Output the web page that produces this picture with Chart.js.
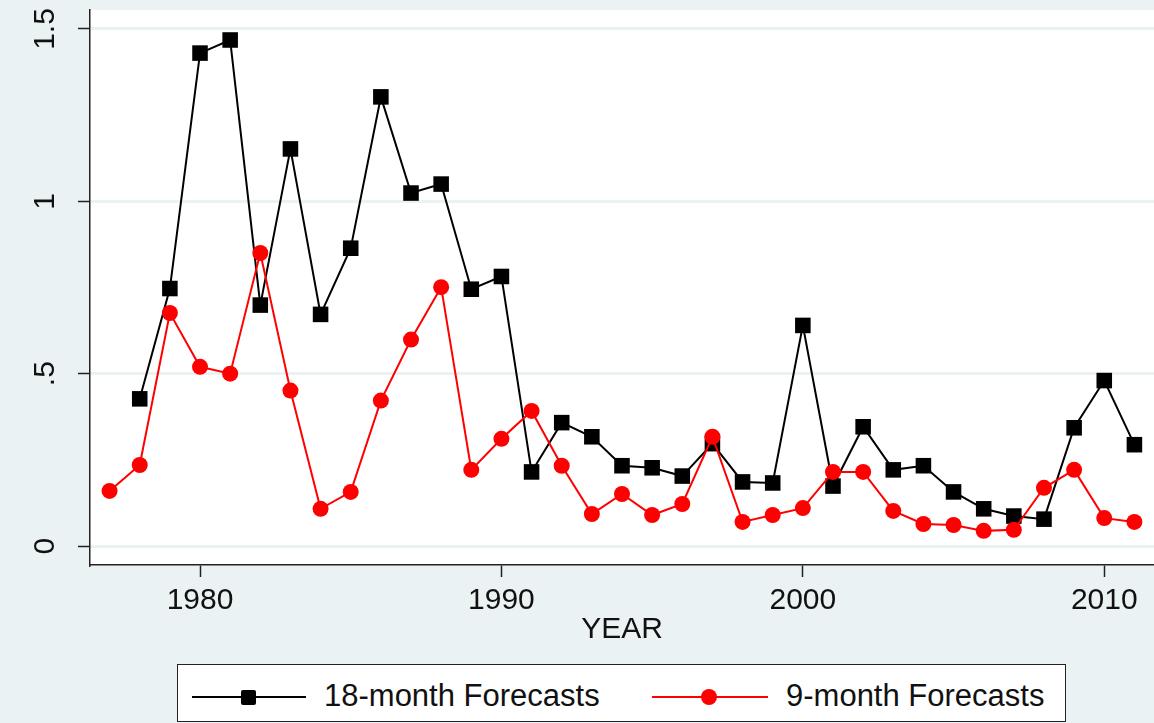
<!DOCTYPE html>
<html>
<head>
<meta charset="utf-8">
<script src="https://cdn.jsdelivr.net/npm/chart.js@4.4.1/dist/chart.umd.min.js"></script>
<style>
html,body{margin:0;padding:0;background:#EAF2F3;}
#wrap{position:relative;width:1154px;height:723px;overflow:hidden;background:#EAF2F3;}
#c{position:absolute;left:0;top:0;}
#legend{position:absolute;left:177px;top:664px;width:887px;height:56px;border:1.5px solid #222;background:#fff;font-family:"Liberation Sans",Arial,sans-serif;font-size:31px;color:#111;}
.ln{position:absolute;height:2px;}
.lbl{position:absolute;line-height:31px;white-space:nowrap;}
.sq{position:absolute;width:15px;height:15px;background:#000;border-radius:2px;}
.ci{position:absolute;width:16px;height:16px;background:#f00;border-radius:50%;}
</style>
</head>
<body>
<div id="wrap">
<canvas id="c" width="1154" height="723"></canvas>
<div id="legend">
  <div class="ln" style="left:14px;width:114px;top:31px;background:#000;"></div>
  <div class="sq" style="left:63px;top:24.5px;"></div>
  <div class="lbl" id="lab1" style="left:146px;top:15px;"></div>
  <div class="ln" style="left:474px;width:116px;top:31px;background:#f00;"></div>
  <div class="ci" style="left:523px;top:24px;"></div>
  <div class="lbl" id="lab2" style="left:608px;top:15px;"></div>
</div>
</div>
<script>
// ---- data ----
const seriesNames = ['18-month Forecasts', '9-month Forecasts'];
const years18 = [1978,1979,1980,1981,1982,1983,1984,1985,1986,1987,1988,1989,1990,1991,1992,1993,1994,1995,1996,1997,1998,1999,2000,2001,2002,2003,2004,2005,2006,2007,2008,2009,2010,2011];
const values18 = [0.427,0.747,1.430,1.468,0.699,1.152,0.672,0.864,1.303,1.024,1.050,0.745,0.782,0.215,0.358,0.317,0.233,0.227,0.203,0.297,0.186,0.183,0.640,0.174,0.346,0.221,0.233,0.157,0.108,0.087,0.078,0.343,0.480,0.294];
const years9 = [1977,1978,1979,1980,1981,1982,1983,1984,1985,1986,1987,1988,1989,1990,1991,1992,1993,1994,1995,1996,1997,1998,1999,2000,2001,2002,2003,2004,2005,2006,2007,2008,2009,2010,2011];
const values9 = [0.160,0.235,0.676,0.520,0.500,0.850,0.451,0.108,0.157,0.422,0.599,0.751,0.221,0.311,0.392,0.233,0.093,0.151,0.090,0.122,0.317,0.070,0.090,0.110,0.215,0.215,0.102,0.064,0.061,0.044,0.047,0.169,0.221,0.081,0.070];
const xTicks = [1980,1990,2000,2010];
const yTicks = [0,0.5,1,1.5];
const yTickLabels = ['0','.5','1','1.5'];
const xTitle = 'YEAR';

document.getElementById('lab1').textContent = seriesNames[0];
document.getElementById('lab2').textContent = seriesNames[1];

const FONT = 'Liberation Sans';

const plotBg = {
  id:'plotBg',
  beforeDraw(chart){
    const {ctx, chartArea:a} = chart;
    ctx.save();
    ctx.fillStyle = '#fff';
    ctx.fillRect(a.left, a.top, a.right - a.left, a.bottom - a.top);
    ctx.restore();
  }
};
const yLabels = {
  id:'yLabels',
  afterDraw(chart){
    const {ctx} = chart;
    const s = chart.scales.y;
    ctx.save();
    ctx.fillStyle = '#111';
    ctx.font = '30px "' + FONT + '"';
    ctx.textAlign = 'center';
    ctx.textBaseline = 'middle';
    yTicks.forEach((v,i)=>{
      const p = s.getPixelForValue(v);
      ctx.save();
      ctx.translate(44, p);
      ctx.rotate(-Math.PI/2);
      ctx.fillText(yTickLabels[i], 0, 2);
      ctx.restore();
    });
    ctx.restore();
  }
};

new Chart(document.getElementById('c'), {
  type:'line',
  data:{
    datasets:[
      {
        label: seriesNames[0],
        data: years18.map((x,i)=>({x, y: values18[i]})),
        borderColor:'#000', backgroundColor:'#000', borderWidth:2,
        pointStyle:'rect', pointRadius:11, pointHoverRadius:11, pointBorderWidth:0,
        tension:0, order:2
      },
      {
        label: seriesNames[1],
        data: years9.map((x,i)=>({x, y: values9[i]})),
        borderColor:'#f00', backgroundColor:'#f00', borderWidth:2,
        pointStyle:'circle', pointRadius:8, pointHoverRadius:8, pointBorderWidth:0,
        tension:0, order:1
      }
    ]
  },
  options:{
    responsive:false,
    animation:false,
    events:[],
    layout:{autoPadding:false, padding:{top:10,left:0,right:0,bottom:73}},
    plugins:{legend:{display:false}, tooltip:{enabled:false}},
    scales:{
      x:{
        type:'linear', min:1976.35, max:2011.65,
        afterBuildTicks:(s)=>{ s.ticks = xTicks.map(v=>({value:v})); },
        afterFit:(s)=>{ s.height = 85; s.paddingLeft = 0; s.paddingRight = 0; },
        grid:{drawOnChartArea:false, tickLength:12, tickColor:'#222', tickWidth:1.5},
        border:{color:'#222', width:1.5},
        ticks:{font:{family:FONT, size:30}, color:'#111', padding:6, maxRotation:0, autoSkip:false, callback:(v)=>String(v)},
        title:{display:true, text:xTitle, font:{family:FONT, size:30}, color:'#111', padding:{top:0,bottom:2}}
      },
      y:{
        type:'linear', min:-0.055, max:1.555,
        afterBuildTicks:(s)=>{ s.ticks = yTicks.map(v=>({value:v})); },
        afterFit:(s)=>{ s.width = 90; s.paddingTop = 0; s.paddingBottom = 0; },
        grid:{color:'#EAF2F3', lineWidth:3, tickLength:12, tickColor:'#222', tickWidth:1.5},
        border:{color:'#222', width:1.5},
        ticks:{display:false}
      }
    }
  },
  plugins:[plotBg, yLabels]
});
</script>
</body>
</html>
